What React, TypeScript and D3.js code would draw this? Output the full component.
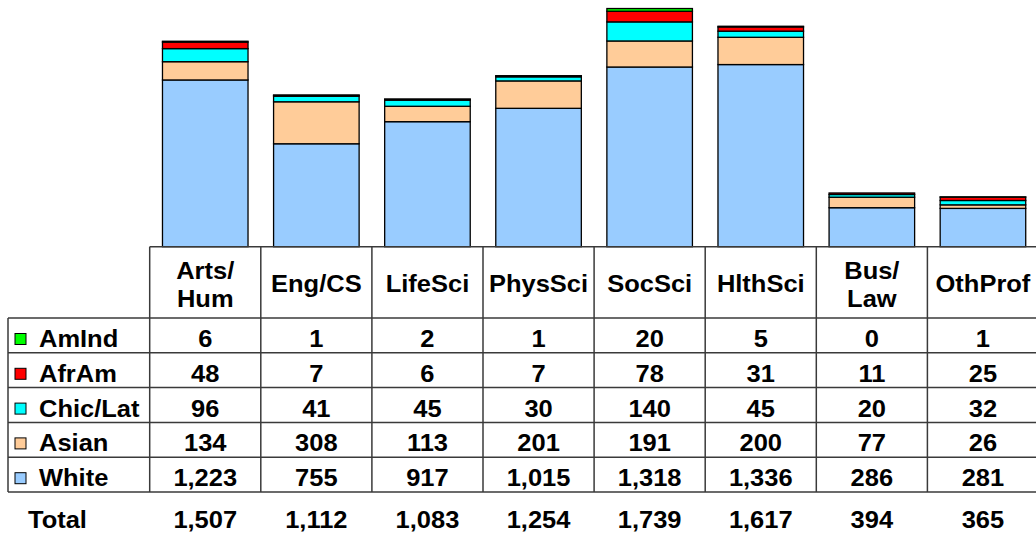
import React from "react";
import * as d3 from "d3";

const categories = ["Arts/\nHum", "Eng/CS", "LifeSci", "PhysSci", "SocSci", "HlthSci", "Bus/\nLaw", "OthProf"];
const seriesNames = ["AmInd", "AfrAm", "Chic/Lat", "Asian", "White"];
const amInd = [6, 1, 2, 1, 20, 5, 0, 1];
const afrAm = [48, 7, 6, 7, 78, 31, 11, 25];
const chicLat = [96, 41, 45, 30, 140, 45, 20, 32];
const asian = [134, 308, 113, 201, 191, 200, 77, 26];
const white = [1223, 755, 917, 1015, 1318, 1336, 286, 281];
const totals = [1507, 1112, 1083, 1254, 1739, 1617, 394, 365];
const seriesColors = ["#00FF00", "#FF0000", "#00FFFF", "#FFCC99", "#99CCFF"];
const yMax = 1800;

const W = 1036;
const H = 537;
const tableLeft = 149.7;
const tableRight = 1038.5;
const baseY = 246.7;
const headerBottom = 318;
const rowH = 34.8;
const legendLeft = 8;
const FONT = "'Liberation Sans', Arial, sans-serif";
const FS = 24.5;
const SX = 1.04;

const T = ({ x, y, children, anchor = "middle" }: any) => (
  <text
    transform={`translate(${x},${y}) scale(${SX},1)`}
    textAnchor={anchor}
    fontFamily={FONT}
    fontWeight="bold"
    fontSize={FS}
    fill="#000"
  >
    {children}
  </text>
);

export default function App() {
  const seriesValues = [amInd, afrAm, chicLat, asian, white];
  const stackOrder = [4, 3, 2, 1, 0]; // bottom to top: White, Asian, Chic/Lat, AfrAm, AmInd
  const x = d3.scaleBand<number>().domain(d3.range(categories.length)).range([tableLeft, tableRight]).padding(0);
  const y = d3.scaleLinear().domain([0, yMax]).range([baseY, 1.3]);
  const bw = x.bandwidth();
  const barW = bw * 0.77;
  const fmt = d3.format(",");

  const rows = seriesNames.map((_, i) => headerBottom + i * rowH);
  const tableBottom = headerBottom + seriesNames.length * rowH;
  const lineColor = "#3a3a3a";

  return (
    <svg width={W} height={H} style={{ position: "absolute", left: 0, top: 0, background: "#fff" }}>
      {categories.map((c, ci) => {
        let cum = 0;
        const bx = (x(ci) as number) + (bw - barW) / 2;
        return (
          <g key={ci}>
            {stackOrder.map((si) => {
              const v = seriesValues[si][ci];
              const y0 = y(cum);
              cum += v;
              const y1 = y(cum);
              if (v === 0) return null;
              return (
                <rect
                  key={si}
                  x={bx}
                  y={y1}
                  width={barW}
                  height={y0 - y1}
                  fill={seriesColors[si]}
                  stroke="#000"
                  strokeWidth={1.3}
                />
              );
            })}
          </g>
        );
      })}

      <g stroke={lineColor} strokeWidth={1.5} fill="none">
        <line x1={tableLeft} x2={tableRight} y1={baseY} y2={baseY} />
        {rows.map((ry, i) => (
          <line key={i} x1={legendLeft} x2={tableRight} y1={ry} y2={ry} />
        ))}
        <line x1={legendLeft} x2={tableRight} y1={tableBottom} y2={tableBottom} />
        <line x1={legendLeft} x2={legendLeft} y1={headerBottom} y2={tableBottom} />
        {categories.map((_, ci) => (
          <line key={ci} x1={x(ci) as number} x2={x(ci) as number} y1={baseY} y2={tableBottom} />
        ))}
        <line x1={tableRight} x2={tableRight} y1={baseY} y2={tableBottom} />
      </g>

      {categories.map((c, ci) => {
        const cx = (x(ci) as number) + bw / 2;
        const lines = c.split("\n");
        if (lines.length === 1) return <T key={ci} x={cx} y={291.5}>{lines[0]}</T>;
        return (
          <g key={ci}>
            <T x={cx} y={279}>{lines[0]}</T>
            <T x={cx} y={306.5}>{lines[1]}</T>
          </g>
        );
      })}

      {seriesNames.map((s, si) => {
        const ry = rows[si];
        return (
          <g key={s}>
            <rect x={15} y={ry + 15.5} width={11} height={11} fill={seriesColors[si]} stroke="#000" strokeWidth={1} />
            <T x={39} y={ry + 29} anchor="start">{s}</T>
            {categories.map((_, ci) => (
              <T key={ci} x={(x(ci) as number) + bw / 2} y={ry + 29}>
                {fmt(seriesValues[si][ci])}
              </T>
            ))}
          </g>
        );
      })}

      <T x={28} y={528} anchor="start">Total</T>
      {categories.map((_, ci) => (
        <T key={ci} x={(x(ci) as number) + bw / 2} y={528}>
          {fmt(totals[ci])}
        </T>
      ))}
    </svg>
  );
}
